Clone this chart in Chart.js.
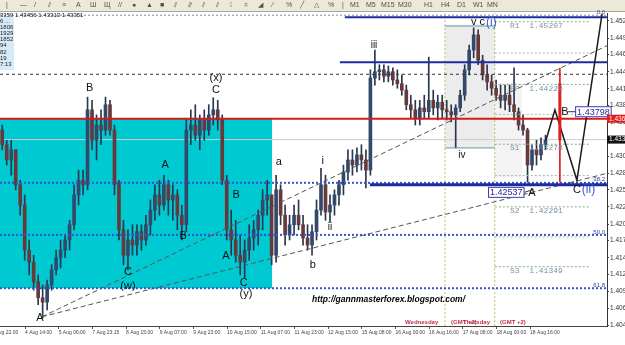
<!DOCTYPE html>
<html>
<head>
<meta charset="utf-8">
<script src="https://cdn.jsdelivr.net/npm/chart.js@4.4.1/dist/chart.umd.min.js"></script>
<style>
html, body { margin: 0; padding: 0; background: #fff; overflow: hidden; }
</style>
</head>
<body>
<canvas id="chart" width="625" height="345"></canvas>
<script>
// candles, one per bar index (prices)
const opens = [1.4350,1.4327,1.4303,1.4319,1.4264,1.4232,1.4161,1.4142,1.4111,1.4086,
  1.4079,1.4106,1.4130,1.4149,1.4161,1.4177,1.4201,1.4248,1.4271,1.4264,
  1.4382,1.4334,1.4358,1.4350,1.4390,1.4350,1.4264,1.4193,1.4153,1.4177,
  1.4169,1.4190,1.4177,1.4201,1.4224,1.4248,1.4232,1.4264,1.4240,1.4248,
  1.4216,1.4201,1.4350,1.4358,1.4342,1.4366,1.4350,1.4374,1.4382,1.4366,
  1.4271,1.4193,1.4177,1.4153,1.4142,1.4161,1.4180,1.4193,1.4216,1.4240,
  1.4248,1.4153,1.4256,1.4216,1.4185,1.4201,1.4216,1.4201,1.4180,1.4169,
  1.4190,1.4224,1.4264,1.4221,1.4232,1.4248,1.4264,1.4284,1.4303,1.4295,
  1.4311,1.4303,1.4287,1.4432,1.4442,1.4445,1.4435,1.4442,1.4429,1.4423,
  1.4413,1.4390,1.4382,1.4369,1.4385,1.4379,1.4397,1.4385,1.4394,1.4382,
  1.4379,1.4374,1.4385,1.4405,1.4445,1.4476,1.4500,1.4460,1.4437,1.4426,
  1.4416,1.4405,1.4397,1.4405,1.4390,1.4379,1.4358,1.4350,1.4295,1.4319,
  1.4311,1.4327];
const highs = [1.4358,1.4334,1.4334,1.4319,1.4271,1.4248,1.4177,1.4153,1.4122,1.4106,
  1.4114,1.4138,1.4161,1.4177,1.4185,1.4208,1.4264,1.4287,1.4287,1.4402,
  1.4397,1.4374,1.4382,1.4402,1.4397,1.4358,1.4271,1.4208,1.4193,1.4201,
  1.4201,1.4201,1.4216,1.4240,1.4264,1.4271,1.4279,1.4271,1.4264,1.4256,
  1.4232,1.4366,1.4382,1.4390,1.4374,1.4382,1.4390,1.4401,1.4397,1.4374,
  1.4279,1.4224,1.4208,1.4185,1.4177,1.4201,1.4208,1.4224,1.4256,1.4271,
  1.4248,1.4279,1.4264,1.4232,1.4216,1.4232,1.4240,1.4216,1.4201,1.4201,
  1.4240,1.4290,1.4279,1.4248,1.4256,1.4271,1.4295,1.4319,1.4319,1.4322,
  1.4327,1.4319,1.4445,1.4476,1.4453,1.4453,1.4451,1.4448,1.4445,1.4437,
  1.4421,1.4405,1.4397,1.4397,1.4405,1.4465,1.4413,1.4405,1.4405,1.4397,
  1.4390,1.4390,1.4413,1.4453,1.4484,1.4511,1.4508,1.4468,1.4453,1.4437,
  1.4429,1.4421,1.4421,1.4421,1.4448,1.4385,1.4374,1.4353,1.4327,1.4334,
  1.4338,1.4342];
const lows = [1.4319,1.4295,1.4279,1.4256,1.4216,1.4145,1.4122,1.4098,1.4075,1.4054,
  1.4067,1.4098,1.4122,1.4133,1.4149,1.4161,1.4193,1.4232,1.4248,1.4256,
  1.4319,1.4303,1.4327,1.4342,1.4342,1.4248,1.4177,1.4138,1.4130,1.4153,
  1.4153,1.4161,1.4169,1.4185,1.4208,1.4216,1.4224,1.4216,1.4208,1.4193,
  1.4177,1.4190,1.4327,1.4334,1.4319,1.4334,1.4342,1.4358,1.4350,1.4264,
  1.4177,1.4153,1.4142,1.4122,1.4117,1.4145,1.4161,1.4169,1.4193,1.4216,
  1.4138,1.4142,1.4201,1.4169,1.4177,1.4185,1.4193,1.4169,1.4161,1.4153,
  1.4177,1.4216,1.4208,1.4205,1.4216,1.4232,1.4248,1.4271,1.4279,1.4284,
  1.4287,1.4259,1.4279,1.4421,1.4429,1.4426,1.4426,1.4421,1.4416,1.4405,
  1.4382,1.4369,1.4358,1.4358,1.4369,1.4369,1.4374,1.4366,1.4369,1.4366,
  1.4363,1.4322,1.4379,1.4397,1.4437,1.4464,1.4453,1.4429,1.4413,1.4405,
  1.4397,1.4385,1.4382,1.4379,1.4366,1.4350,1.4342,1.4268,1.4287,1.4295,
  1.4303,1.4319];
const closes = [1.4327,1.4303,1.4319,1.4264,1.4232,1.4161,1.4142,1.4111,1.4086,1.4079,
  1.4106,1.4130,1.4149,1.4161,1.4177,1.4201,1.4248,1.4271,1.4264,1.4382,
  1.4334,1.4358,1.4350,1.4390,1.4350,1.4264,1.4193,1.4153,1.4177,1.4169,
  1.4190,1.4177,1.4201,1.4224,1.4248,1.4232,1.4264,1.4240,1.4248,1.4216,
  1.4201,1.4350,1.4358,1.4342,1.4366,1.4350,1.4374,1.4382,1.4366,1.4271,
  1.4193,1.4177,1.4153,1.4142,1.4161,1.4180,1.4193,1.4216,1.4240,1.4248,
  1.4153,1.4256,1.4216,1.4185,1.4201,1.4216,1.4201,1.4180,1.4169,1.4190,
  1.4224,1.4264,1.4221,1.4232,1.4248,1.4264,1.4284,1.4303,1.4295,1.4311,
  1.4303,1.4287,1.4432,1.4442,1.4445,1.4435,1.4442,1.4429,1.4423,1.4413,
  1.4390,1.4382,1.4369,1.4385,1.4379,1.4397,1.4385,1.4394,1.4382,1.4379,
  1.4374,1.4385,1.4405,1.4445,1.4476,1.4500,1.4460,1.4437,1.4426,1.4416,
  1.4405,1.4397,1.4405,1.4390,1.4379,1.4358,1.4350,1.4295,1.4319,1.4311,
  1.4327,1.4334];

// axis labels
const priceTicks = ['1.4522','1.4495','1.4469','1.4442','1.4415','1.4389','1.4362','1.4336','1.4309',
  '1.4282','1.4256','1.4229','1.4202','1.4176','1.4149','1.4123','1.4096','1.4069','1.4043'];
const timeTickPos = [-2.43,5.07,12.57,20.07,27.57,35.07,42.57,50.07,57.57,65.07,72.57,80.07,87.57,95.07,102.57,110.07,117.57];
const timeLabels = ['3 Aug 22:00','4 Aug 14:00','5 Aug 06:00','7 Aug 23:15','8 Aug 15:00','9 Aug 07:00',
  '9 Aug 23:00','10 Aug 15:00','11 Aug 07:00','11 Aug 23:00','12 Aug 15:00','15 Aug 08:00',
  '16 Aug 00:00','16 Aug 16:00','17 Aug 08:00','18 Aug 00:00','18 Aug 16:00'];

// drawn levels
const xStart = -0.5, xEnd = 134.7;
const fibPrices = [1.4531, 1.4267, 1.4185, 1.4101];
const fibNames = ['0.0', '38.2', '50.0', '61.8'];
const blueLevels = [1.4528, 1.4457, 1.4264];
const blueFrom = [76.3, 75.2, 81.9];
const redLevel = 1.4368;
const dashLevel = 1.4438;
const bidLevel = 1.43351;
const pivotNames = ['R1', 'PP', 'S1', 'S2', 'S3'];
const pivotValues = [1.45207, 1.44220, 1.43278, 1.42291, 1.41349];
const pivotMids = [1.44714, 1.43749, 1.42785, 1.41820];
const prevPivots = [1.4514, 1.4322];
const daySeparators = [98.6, 109.7];
const diagA = [[8.85, 1.4056], [134.7, 1.4483]];
const diagB = [[8.85, 1.4056], [134.7, 1.4282]];
const pathIdx = [121.1, 123.1, 128.0, 133.6];
const pathPrice = [1.4334, 1.4382, 1.4271, 1.4533];
const redMarkIdx = 124.2;
const redMarkThin = [1.4448, 1.4268];
const redMarkThick = [1.4424, 1.4334];

// wave counts
const waveLabels = [
  ['B', 19.5, 1.4416], ['(x)', 47.6, 1.4432], ['C', 47.6, 1.4413], ['A', 8.4, 1.4054],
  ['C', 28.0, 1.4127], ['(w)', 28.0, 1.4105], ['A', 36.3, 1.4295], ['B', 40.3, 1.4183],
  ['B', 52.1, 1.4248], ['A', 49.8, 1.4152], ['C', 53.8, 1.4109], ['(y)', 54.3, 1.4092],
  ['a', 61.6, 1.4300], ['b', 69.2, 1.4138], ['i', 71.4, 1.4301], ['ii', 73.0, 1.4197],
  ['iii', 82.8, 1.4484], ['iv', 102.4, 1.4311], ['A', 118.0, 1.4251], ['B', 125.3, 1.4379]
];
const degreeLabels = [['v c', '(i)', 104.4, 1.4520], ['C', '(ii)', 127.1, 1.4256]];
const priceBoxes = [['1.43798', 127.6, 1.4379], ['1.42537', 108.2, 1.4252]];

const UP = '#33496b', DOWN = '#663a3a', WICK = '#2a3650';
const idx = closes.map((_, i) => i);

function hline(p, x0, x1, color, width, dash, order) {
  return { type: 'line', data: [{ x: x0, y: p }, { x: x1, y: p }], borderColor: color,
    borderWidth: width, borderDash: dash || [], pointRadius: 0, order: order || 2 };
}
function seg(pts, color, width, dash, order) {
  return { type: 'line', data: pts.map(([x, y]) => ({ x, y })), borderColor: color,
    borderWidth: width, borderDash: dash || [], pointRadius: 0, order: order || 2 };
}

const datasets = [];
datasets.push({ type: 'bar', data: idx.map(i => ({ x: i, y: [lows[i], highs[i]] })),
  backgroundColor: WICK, barThickness: 1, grouped: false, order: 20 });
datasets.push({ type: 'bar', data: idx.map(i => ({ x: i, y: [opens[i], closes[i]] })),
  backgroundColor: idx.map(i => closes[i] >= opens[i] ? UP : DOWN),
  barThickness: 3, minBarLength: 1, grouped: false, order: 19 });

daySeparators.forEach(d => datasets.push(seg([[d, 1.4035], [d, 1.4540]], '#c4b575', 1, [2, 2], 25)));
datasets.push(hline(bidLevel, xStart, xEnd, '#cccccc', 1, null, 24));
fibPrices.forEach((p, k) => datasets.push(hline(p, xStart, xEnd, k === 0 ? '#7f8ab5' : '#3652c8', k === 0 ? 1 : 2, [2, 2], 3)));
datasets.push(hline(dashLevel, xStart, xEnd, '#333333', 1, [3, 3], 3));
pivotValues.forEach(p => datasets.push(hline(p, 109.7, 130.9, '#7fb07f', 1, [2, 2], 4)));
pivotMids.forEach(p => datasets.push(hline(p, 109.7, 130.9, '#9cc09c', 1, [2, 2], 4)));
prevPivots.forEach(p => datasets.push(hline(p, 98.6, 109.7, '#5f9ea0', 1, null, 4)));
datasets.push(hline(redLevel, xStart, xEnd, '#d41a1a', 2, null, 2));
blueLevels.forEach((p, k) => datasets.push(hline(p, blueFrom[k], xEnd, '#1c2c9c', k === 2 ? 3 : 2, null, 2)));
datasets.push(seg(diagA, '#555555', 1, [5, 3], 2));
datasets.push(seg(diagB, '#555555', 1, [5, 3], 2));
datasets.push(seg([[redMarkIdx, redMarkThin[0]], [redMarkIdx, redMarkThin[1]]], '#e02020', 1, null, 1));
datasets.push(seg([[redMarkIdx, redMarkThick[0]], [redMarkIdx, redMarkThick[1]]], '#e02020', 3, null, 1));
datasets.push(seg(pathIdx.map((x, k) => [x, pathPrice[k]]), '#1a1a1a', 1.5, null, 1));

const toolIcons = ['|', '—', '/', '⫽', '≡', 'A', 'Ш', 'Щ', '//', '●', '▲', '■', '⫽', '⫻', '⫽', '⫽', '⁞', '⌗', '◢', '⁄', '%', '╱', '△', '%', '|'];
const tfButtons = [['M1', 350], ['M5', 366], ['M15', 381], ['M30', 398], ['H1', 424], ['H4', 441], ['D1', 457], ['W1', 473], ['MN', 487]];
const infoLines = ['6 ...', '1806', '1929', '1852', '94', '82', '19', '7:13'];

const decor = {
  id: 'decor',
  beforeDraw(chart) {
    const c = chart.ctx;
    c.save();
    c.fillStyle = '#fff';
    c.fillRect(0, 0, chart.width, chart.height);
    c.fillStyle = '#ece9d8';
    c.fillRect(0, 0, chart.width, 12);
    c.strokeStyle = '#aca899';
    c.beginPath(); c.moveTo(0, 11.5); c.lineTo(chart.width, 11.5); c.stroke();
    c.fillStyle = '#505050';
    c.font = '7px "Liberation Sans"';
    c.textBaseline = 'middle';
    toolIcons.forEach((g, k) => c.fillText(g, 6 + k * 14, 5.5));
    tfButtons.forEach(([t, x]) => c.fillText(t, x, 5.5));
    c.restore();
  },
  beforeDatasetsDraw(chart) {
    const c = chart.ctx, X = chart.scales.x, Y = chart.scales.y;
    const rect = (i0, i1, p0, p1, col) => {
      const x0 = X.getPixelForValue(i0), x1 = X.getPixelForValue(i1);
      const y0 = Y.getPixelForValue(p0), y1 = Y.getPixelForValue(p1);
      c.fillStyle = col;
      c.fillRect(x0, y0, x1 - x0, y1 - y0);
    };
    c.save();
    rect(xStart, 60.1, 1.4369, 1.4101, '#00cad1');
    rect(98.6, 109.7, 1.4516, 1.4322, '#ececec');
    rect(109.7, 115.8, 1.4424, 1.4275, '#f3f3f3');
    c.restore();
  },
  afterDatasetsDraw(chart) {
    const c = chart.ctx, X = chart.scales.x, Y = chart.scales.y;
    c.save();
    c.textBaseline = 'middle';
    // wave labels
    c.fillStyle = '#111';
    c.textAlign = 'center';
    waveLabels.forEach(([t, i, p]) => {
      c.font = (t.length > 1 && t !== '(x)' && t !== '(w)' && t !== '(y)') ? '10px "Liberation Sans"' : '11px "Liberation Sans"';
      c.fillText(t, X.getPixelForValue(i), Y.getPixelForValue(p));
    });
    c.textAlign = 'left';
    degreeLabels.forEach(([a, b, i, p]) => {
      const x = X.getPixelForValue(i), y = Y.getPixelForValue(p);
      c.font = '11px "Liberation Sans"';
      c.fillStyle = '#111';
      c.fillText(a, x, y);
      const w = c.measureText(a).width;
      c.fillStyle = '#3a5ad0';
      c.font = '12px "Liberation Sans"';
      c.fillText(b, x + w + 1, y);
    });
    // price boxes
    c.font = '9px "Liberation Sans"';
    priceBoxes.forEach(([t, i, p], k) => {
      const x = X.getPixelForValue(i), y = Y.getPixelForValue(p);
      const w = c.measureText(t).width + 3;
      c.fillStyle = '#fff';
      c.fillRect(x, y - 5.5, w, 11);
      c.strokeStyle = '#3c3ca8';
      c.lineWidth = 1;
      c.strokeRect(x + 0.5, y - 5, w, 10);
      c.fillStyle = '#2a2a9a';
      c.fillText(t, x + 2, y + 0.5);
      c.strokeStyle = '#333';
      c.beginPath();
      if (k === 0) { c.moveTo(x - 7, y); c.lineTo(x, y); }
      else { c.moveTo(x + w + 1, y); c.lineTo(x + w + 10, y - 3); }
      c.stroke();
    });
    // pivot texts
    c.font = '8px "Liberation Mono"';
    c.fillStyle = '#7f8ea6';
    pivotNames.forEach((n, k) => {
      c.fillText(n + '  ' + pivotValues[k].toFixed(5), 510, Y.getPixelForValue(pivotValues[k]) + 4);
    });
    // fibo texts
    c.font = '6px "Liberation Sans"';
    c.fillStyle = '#3a3aa8';
    c.textAlign = 'right';
    fibNames.forEach((n, k) => c.fillText(n, 605, Y.getPixelForValue(fibPrices[k]) - 3));
    c.textAlign = 'left';
    // header and info box
    c.fillStyle = '#111';
    c.font = '6px "Liberation Sans"';
    c.fillText('3359 1.43456 1.43313 1.43351', 0, 15);
    c.fillStyle = '#d6eaf8';
    c.fillRect(0, 17, 14, 53);
    c.fillStyle = '#222';
    infoLines.forEach((t, k) => c.fillText(t, 0, 21 + k * 6.2));
    // url
    c.font = 'italic bold 8.5px "Liberation Sans"';
    c.fillStyle = '#000';
    c.fillText('http://gannmasterforex.blogspot.com/', 312, 300);
    // day labels
    c.font = 'bold 6px "Liberation Sans"';
    c.fillStyle = '#c0304c';
    c.fillText('Wednesday', 405, 322);
    c.fillText('(GMT +2)', 451, 322);
    c.fillText('Thursday', 463, 322);
    c.fillText('(GMT +2)', 500, 322);
    c.restore();
  },
  afterDraw(chart) {
    const c = chart.ctx, Y = chart.scales.y;
    c.save();
    c.font = '6.5px "Liberation Sans"';
    c.textBaseline = 'middle';
    const tag = (p, bg, txt) => {
      const y = Y.getPixelForValue(p);
      c.fillStyle = bg;
      c.fillRect(607, y - 4, 18, 8);
      c.fillStyle = '#fff';
      c.fillText(txt, 609, y);
    };
    tag(redLevel, '#e01c1c', redLevel.toFixed(4));
    tag(bidLevel, '#111', bidLevel.toFixed(4));
    c.restore();
  }
};

const ctx = document.getElementById('chart').getContext('2d');
const chart = new Chart(ctx, {
  type: 'bar',
  data: { datasets: datasets },
  options: {
    responsive: false,
    animation: false,
    events: [],
    devicePixelRatio: 1,
    layout: { padding: { top: 13, left: 0, right: 0, bottom: 0 } },
    plugins: { legend: { display: false }, tooltip: { enabled: false } },
    scales: {
      x: {
        type: 'linear', min: xStart, max: xEnd, offset: false, bounds: 'data',
        grid: { drawOnChartArea: false, offset: false, tickLength: 3, color: '#555' },
        border: { display: true, color: '#444' },
        afterBuildTicks: s => { s.ticks = timeTickPos.map(v => ({ value: v })); },
        afterFit: s => { s.height = 19; s.paddingLeft = 0; s.paddingRight = 0; },
        ticks: {
          autoSkip: false, maxRotation: 0, minRotation: 0, align: 'start', padding: 1,
          font: { size: 5, family: 'Liberation Sans' }, color: '#444',
          callback: (v, i) => timeLabels[i]
        }
      },
      y: {
        type: 'linear', position: 'right', min: 1.40415, max: 1.45345, beginAtZero: false, bounds: 'data',
        grid: { drawOnChartArea: false, tickLength: 2, color: '#444' },
        border: { display: true, color: '#333' },
        afterBuildTicks: s => { s.ticks = priceTicks.map(v => ({ value: parseFloat(v) })); },
        afterFit: s => { s.width = 18; s.paddingTop = 0; s.paddingBottom = 0; },
        ticks: {
          autoSkip: false, padding: 1,
          font: { size: 6.5, family: 'Liberation Sans' }, color: '#333',
          callback: v => v.toFixed(4)
        }
      }
    }
  },
  plugins: [decor]
});
</script>
</body>
</html>
